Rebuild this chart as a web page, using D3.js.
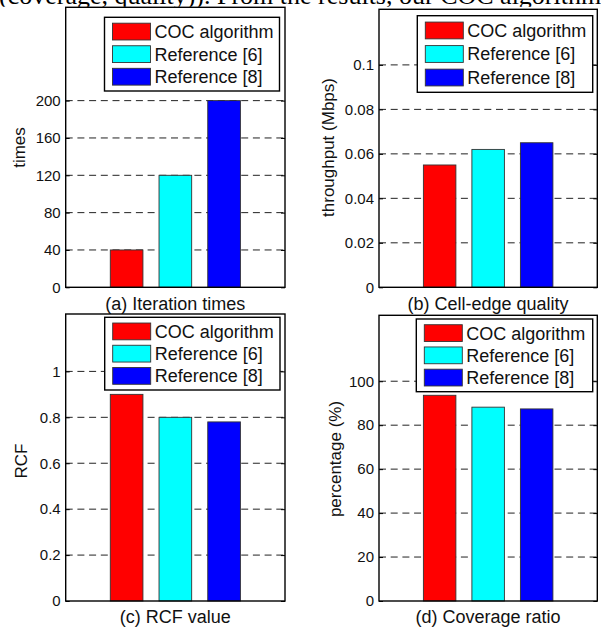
<!DOCTYPE html>
<html>
<head>
<meta charset="utf-8">
<script src="https://cdn.jsdelivr.net/npm/d3@7"></script>
<style>
  html, body { margin: 0; padding: 0; background: #fff; }
  svg { display: block; }
  text { font-family: "Liberation Sans", Arial, Helvetica, sans-serif; fill: #111; }
</style>
</head>
<body>
<svg id="fig" width="601" height="628"></svg>
<script>
// --- data ---
const seriesNames = ["COC algorithm", "Reference [6]", "Reference [8]"];
const seriesColors = ["#ff0000", "#00ffff", "#0000ff"];
const barPositions = [1, 2, 3];

const iterationTimes = [40, 120, 200];
const edgeThroughput = [0.055, 0.062, 0.065];
const rcfValues = [0.9, 0.8, 0.78];
const coverageRatio = [93.6, 88.2, 87.4];

const iterTicks = [0, 40, 80, 120, 160, 200];
const throughputTicks = [0, 0.02, 0.04, 0.06, 0.08, 0.1];
const rcfTicks = [0, 0.2, 0.4, 0.6, 0.8, 1];
const coverageTicks = [0, 20, 40, 60, 80, 100];

const yLimits = [300, 0.125, 1.25, 130];
const yLabels = ["times", "throughput (Mbps)", "RCF", "percentage (%)"];
const captions = ["(a) Iteration times", "(b) Cell-edge quality", "(c) RCF value", "(d) Coverage ratio"];

const svg = d3.select("#fig");

// line of body text above the figure, mostly hidden behind the figure's white background
svg.append("text")
    .attr("x", -1).attr("y", 4)
    .style("font-family", "'Liberation Serif', 'Times New Roman', serif")
    .style("font-size", "26px")
    .style("fill", "#000")
    .text("(coverage, quality)). From the results, our COC algorithm");
svg.append("rect")
    .attr("x", 0).attr("y", 6.8).attr("width", 601).attr("height", 628)
    .attr("fill", "#fff");

// panel boxes (left, right, top, bottom) + legend boxes and label spots
const panels = [
  {vals: iterationTimes, ticks: iterTicks, box: [65.7, 285, 7.3, 287.3], leg: [104.5, 17.3, 175, 73.7], ylab: [25, 147.5], cap: [175.3, 309.5]},
  {vals: edgeThroughput, ticks: throughputTicks, box: [379, 597.3, 9.3, 287.3], leg: [417.3, 15.7, 175.4, 76.6], ylab: [334, 147.5], cap: [488, 309.5]},
  {vals: rcfValues, ticks: rcfTicks, box: [65.7, 285, 314, 601], leg: [104.7, 317.3, 175.3, 72.7], ylab: [26.5, 461], cap: [175.3, 623]},
  {vals: coverageRatio, ticks: coverageTicks, box: [379, 597.3, 315.3, 601], leg: [416.3, 319, 176.4, 72.7], ylab: [340.5, 459], cap: [488, 622.5]}
];

panels.forEach((p, k) => {
  const [x0, x1, y0, y1] = p.box;
  const x = d3.scaleLinear().domain([-0.25, 4.25]).range([x0, x1]);
  const y = d3.scaleLinear().domain([0, yLimits[k]]).range([y1, y0]);
  const g = svg.append("g");

  // dashed grid behind the bars
  g.selectAll("line.grid").data(p.ticks.filter(t => t > 0)).enter()
    .append("line")
    .attr("class", "grid")
    .attr("x1", x0).attr("x2", x1)
    .attr("y1", d => y(d)).attr("y2", d => y(d))
    .attr("stroke", "#222").attr("stroke-width", 1)
    .attr("stroke-dasharray", "7,4.7");

  const bw = 0.67;
  g.selectAll("rect.bar").data(p.vals).enter()
    .append("rect")
    .attr("class", "bar")
    .attr("x", (d, i) => x(barPositions[i] - bw / 2))
    .attr("width", x(bw) - x(0))
    .attr("y", d => y(d))
    .attr("height", d => y1 - y(d))
    .attr("fill", (d, i) => seriesColors[i])
    .attr("stroke", "#333").attr("stroke-width", 0.9);

  // axes (ticks inward, labels on left only)
  const left = g.append("g").attr("transform", `translate(${x0},0)`)
    .call(d3.axisLeft(y).tickValues(p.ticks).tickSize(-4).tickPadding(5).tickFormat(d => String(d)));
  const right = g.append("g").attr("transform", `translate(${x1},0)`)
    .call(d3.axisRight(y).tickValues(p.ticks).tickSize(-4).tickFormat(""));
  [left, right].forEach(a => {
    a.select(".domain").remove();
    a.selectAll(".tick line").attr("stroke", "#000").attr("stroke-width", 1);
  });
  left.selectAll(".tick text")
    .style("font-family", "'Liberation Sans', Arial, sans-serif")
    .style("font-size", "15px").attr("fill", "#111");

  g.append("rect")
    .attr("x", x0).attr("y", y0)
    .attr("width", x1 - x0).attr("height", y1 - y0)
    .attr("fill", "none").attr("stroke", "#000").attr("stroke-width", 1.4);

  // legend
  const [lx, ly, lw, lh] = p.leg;
  const lg = g.append("g");
  lg.append("rect")
    .attr("x", lx).attr("y", ly).attr("width", lw).attr("height", lh)
    .attr("fill", "#fff").attr("stroke", "#000").attr("stroke-width", 1.4);
  const rowH = (lh - 6) / 3;
  seriesNames.forEach((name, i) => {
    const cy = ly + 3 + rowH * (i + 0.5);
    lg.append("rect")
      .attr("x", lx + 8).attr("y", cy - 8.4)
      .attr("width", 38).attr("height", 16.8)
      .attr("fill", seriesColors[i]).attr("stroke", "#333").attr("stroke-width", 0.9);
    lg.append("text")
      .attr("x", lx + 50).attr("y", cy + 6.4)
      .style("font-size", "18px")
      .text(name);
  });

  g.append("text")
    .attr("transform", `translate(${p.ylab[0]},${p.ylab[1]}) rotate(-90)`)
    .attr("text-anchor", "middle")
    .style("font-size", "17px")
    .text(yLabels[k]);

  g.append("text")
    .attr("x", p.cap[0]).attr("y", p.cap[1])
    .attr("text-anchor", "middle")
    .style("font-size", "18px")
    .text(captions[k]);
});
</script>
</body>
</html>
